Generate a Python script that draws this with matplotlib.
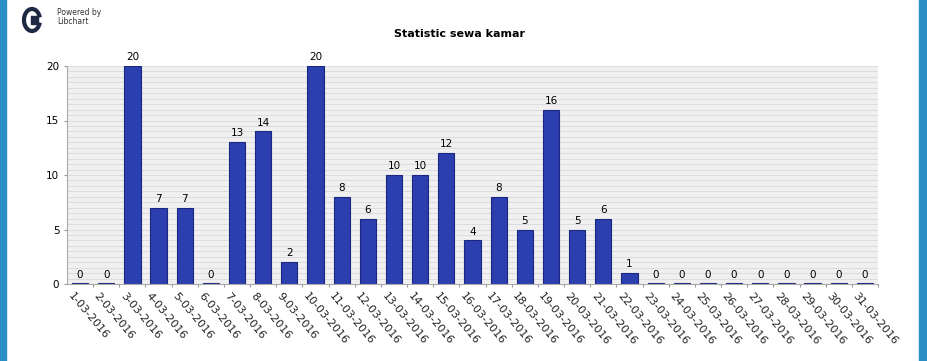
import numpy as np
import matplotlib.pyplot as plt
from matplotlib.patches import Rectangle, Arc

days = [f"{d}-03-2016" for d in range(1, 32)]
counts = [0, 0, 20, 7, 7, 0, 13, 14, 2, 20, 8, 6, 10, 10, 12, 4, 8, 5, 16, 5,
          6, 1, 0, 0, 0, 0, 0, 0, 0, 0, 0]
yticks = [0, 5, 10, 15, 20]

fig = plt.figure(figsize=(9.28, 3.61), dpi=100)
fig.patch.set_facecolor("white")

# blue side frame
fig.add_artist(Rectangle((0, 0), 6 / 928, 1, transform=fig.transFigure, color="#2a8fc4"))
fig.add_artist(Rectangle((919 / 928, 0), 9 / 928, 1, transform=fig.transFigure, color="#2a8fc4"))

# logo
fig.add_artist(Arc((32 / 928, 1 - 20 / 361), 16 / 928, 22 / 361, theta1=40, theta2=320,
                   transform=fig.transFigure, color="#1e2a44", lw=3))
fig.add_artist(Rectangle((31 / 928, 1 - 24 / 361), 7 / 928, 8 / 361,
                         transform=fig.transFigure, color="#1e2a44"))
fig.text(57 / 928, 1 - 17 / 361, "Powered by\nLibchart", fontsize=5.5, color="#333333",
         va="center", ha="left", linespacing=1.1)

fig.text(460 / 928, 1 - 34 / 361, "Statistic sewa kamar", fontsize=8, fontweight="bold",
         ha="center", va="center")

ax = fig.add_axes([67 / 928, 1 - 284 / 361, 811 / 928, 218 / 361])
ax.set_facecolor("#f0f0f0")
for y in np.arange(0.5, 20.5, 0.5):
    ax.axhline(y, color="#dcdcdc", lw=0.7, zorder=0)

x = np.arange(len(days))
heights = [c if c > 0 else 0.12 for c in counts]
ax.bar(x, heights, width=0.62, color="#2b3fae", edgecolor="#1a2780", linewidth=0.8, zorder=2)
for xi, c in zip(x, counts):
    ax.text(xi, c + 0.35, str(c), ha="center", va="bottom", fontsize=7.5)

ax.set_xlim(-0.5, len(days) - 0.5)
ax.set_ylim(0, 20)
ax.set_yticks(yticks)
ax.set_yticklabels([str(t) for t in yticks], fontsize=7.5)
ax.set_xticks(x + 0.5)
ax.set_xticklabels([])
ax.tick_params(axis="x", length=2, color="#999999")
ax.tick_params(axis="y", length=2, color="#999999")
for xi, d in zip(x, days):
    ax.text(xi - 0.25, -0.6, d, rotation=-50, ha="left", va="top", fontsize=8,
            rotation_mode="anchor", color="#222222")
for s in ["top", "right"]:
    ax.spines[s].set_visible(False)
ax.spines["left"].set_color("#aaaaaa")
ax.spines["bottom"].set_color("#aaaaaa")

fig.savefig("out.png", dpi=100)
